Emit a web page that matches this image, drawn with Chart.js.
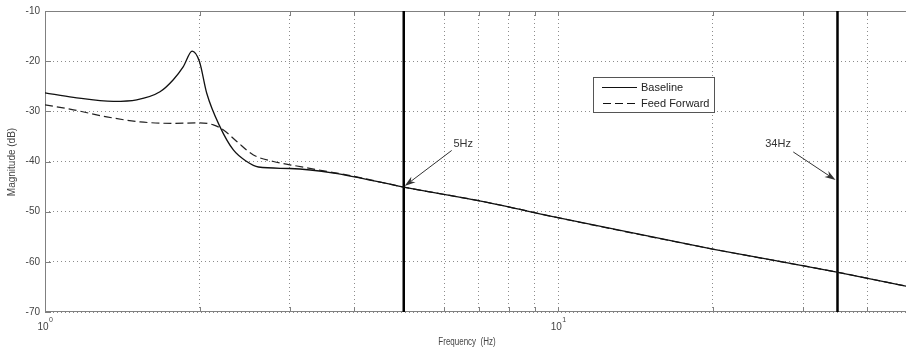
<!DOCTYPE html>
<html>
<head>
<meta charset="utf-8">
<script src="https://cdn.jsdelivr.net/npm/chart.js@4/dist/chart.umd.min.js"></script>
<style>
    html, body { margin: 0; padding: 0; background: #fff; overflow: hidden; }
    #wrap { width: 918px; height: 354px; }
</style>
</head>
<body>
<div id="wrap"><canvas id="bode" width="918" height="354"></canvas></div>
<script>
// Bode magnitude - Baseline vs Feed Forward

const baselineFreq = [1, 1.136, 1.359, 1.509, 1.675, 1.778, 1.86, 1.935, 2.0, 2.066, 2.193, 2.328, 2.472, 2.605, 3.0, 3.65, 5.0, 7.15, 10.09, 20.1, 34.7, 50];
const baselineMag  = [-26.3, -27.2, -28.0, -27.7, -26.1, -23.7, -21.1, -18.0, -20.1, -26.4, -33.1, -37.7, -40.0, -41.1, -41.4, -42.3, -45.1, -48.0, -51.3, -57.5, -62.0, -65.3];

const ffFreq = [1, 1.136, 1.319, 1.532, 1.778, 2.0, 2.128, 2.227, 2.364, 2.547, 2.786, 3.095, 3.65, 3.8, 5.0, 7.15, 10.09, 20.1, 34.7, 50];
const ffMag  = [-28.7, -29.7, -31.1, -32.1, -32.4, -32.3, -32.7, -33.7, -36.0, -38.7, -40.0, -40.9, -42.2, -42.5, -45.1, -48.0, -51.3, -57.5, -62.0, -65.3];

const markerFreqs = [5, 35];
const yTicks = [-70, -60, -50, -40, -30, -20, -10];
const xGrid = [1, 2, 3, 4, 5, 6, 7, 8, 9, 10, 20, 30, 40];
const xDecades = [1, 10];

const seriesNames = ['Baseline', 'Feed Forward'];
const notes = [
    { label: '5Hz',  textX: 6.25, textY: -36.6, fromX: 6.2,  fromY: -37.8, toX: 5.02, toY: -44.9, align: 'left' },
    { label: '34Hz', textX: 28.4, textY: -36.6, fromX: 28.7, fromY: -38.1, toX: 34.7, toY: -43.7, align: 'right' }
];

const FONT = '"Liberation Sans", Arial, sans-serif';

function toPoints(xs, ys) {
    return xs.map((v, i) => ({ x: v, y: ys[i] }));
}

function drawArrow(ctx, x1, y1, x2, y2) {
    const ang = Math.atan2(y2 - y1, x2 - x1);
    const len = 11, half = 3.5;
    const c = Math.cos(ang), s = Math.sin(ang);
    ctx.beginPath();
    ctx.moveTo(x1, y1);
    ctx.lineTo(x2 - c * len * 0.7, y2 - s * len * 0.7);
    ctx.stroke();
    ctx.beginPath();
    ctx.moveTo(x2, y2);
    ctx.lineTo(x2 - c * len + s * half, y2 - s * len - c * half);
    ctx.lineTo(x2 - c * len * 0.7, y2 - s * len * 0.7);
    ctx.lineTo(x2 - c * len - s * half, y2 - s * len + c * half);
    ctx.closePath();
    ctx.fill();
}

const bodeDecor = {
    id: 'bodeDecor',
    beforeDatasetsDraw(chart) {
        const { ctx, chartArea: a, scales: { x, y } } = chart;
        ctx.save();
        ctx.strokeStyle = '#808080';
        ctx.lineWidth = 1;
        ctx.strokeRect(a.left + 0.5, a.top + 0.5, a.right - a.left - 1, a.bottom - a.top - 1);
        // matlab style inner ticks
        ctx.beginPath();
        xGrid.forEach(v => {
            const px = Math.round(x.getPixelForValue(v)) + 0.5;
            ctx.moveTo(px, a.bottom); ctx.lineTo(px, a.bottom - 5);
            ctx.moveTo(px, a.top); ctx.lineTo(px, a.top + 5);
        });
        yTicks.forEach(v => {
            const py = Math.round(y.getPixelForValue(v)) + 0.5;
            ctx.moveTo(a.left, py); ctx.lineTo(a.left + 6, py);
            ctx.moveTo(a.right, py); ctx.lineTo(a.right - 6, py);
        });
        ctx.stroke();
        ctx.restore();
    },
    afterDatasetsDraw(chart) {
        const { ctx, scales: { x, y } } = chart;
        ctx.save();

        // annotations
        ctx.fillStyle = '#333';
        ctx.strokeStyle = '#333';
        ctx.lineWidth = 1;
        ctx.font = '11px ' + FONT;
        ctx.textBaseline = 'middle';
        notes.forEach(n => {
            ctx.textAlign = n.align;
            ctx.fillText(n.label, x.getPixelForValue(n.textX), y.getPixelForValue(n.textY));
            drawArrow(ctx, x.getPixelForValue(n.fromX), y.getPixelForValue(n.fromY),
                      x.getPixelForValue(n.toX), y.getPixelForValue(n.toY));
        });

        // legend box
        ctx.fillStyle = '#fff';
        ctx.fillRect(593, 77, 121, 35);
        ctx.strokeStyle = '#555';
        ctx.strokeRect(593.5, 77.5, 121, 35);
        ctx.strokeStyle = '#111';
        ctx.lineWidth = 1.2;
        ctx.beginPath(); ctx.moveTo(602, 87.5); ctx.lineTo(637, 87.5); ctx.stroke();
        ctx.setLineDash([8, 4]);
        ctx.beginPath(); ctx.moveTo(603, 103.5); ctx.lineTo(638, 103.5); ctx.stroke();
        ctx.setLineDash([]);
        ctx.fillStyle = '#222';
        ctx.textAlign = 'left';
        ctx.font = '11px ' + FONT;
        ctx.fillText(seriesNames[0], 641, 87.5);
        ctx.fillText(seriesNames[1], 641, 103.5);
        ctx.restore();
    },
    afterDraw(chart) {
        const { ctx, chartArea: a, scales: { x } } = chart;
        ctx.save();
        ctx.fillStyle = '#444';
        ctx.textBaseline = 'middle';
        // decade labels 10^n
        xDecades.forEach(v => {
            const px = x.getPixelForValue(v);
            const exp = String(Math.round(Math.log10(v)));
            ctx.font = '10px ' + FONT;
            const w1 = ctx.measureText('10').width;
            ctx.font = '7px ' + FONT;
            const w2 = ctx.measureText(exp).width;
            const start = px - (w1 + w2) / 2;
            ctx.textAlign = 'left';
            ctx.font = '10px ' + FONT;
            ctx.fillText('10', start, a.bottom + 15);
            ctx.font = '7px ' + FONT;
            ctx.fillText(exp, start + w1 + 0.5, a.bottom + 8);
        });
        // axis titles
        ctx.textAlign = 'center';
        ctx.font = '10px ' + FONT;
        ctx.save();
        ctx.translate(467, 342);
        ctx.scale(0.8, 1);
        ctx.fillText('Frequency  (Hz)', 0, 0);
        ctx.restore();
        ctx.save();
        ctx.translate(12, 162);
        ctx.rotate(-Math.PI / 2);
        ctx.fillText('Magnitude (dB)', 0, 0);
        ctx.restore();
        ctx.restore();
    }
};

const gridStyle = { color: '#8c8c8c', lineWidth: 1, drawTicks: false };

new Chart(document.getElementById('bode'), {
    type: 'line',
    data: {
        datasets: [
            {
                label: seriesNames[0],
                data: toPoints(baselineFreq, baselineMag),
                borderColor: '#111',
                borderWidth: 1.3,
                pointRadius: 0,
                cubicInterpolationMode: 'monotone'
            },
            {
                label: seriesNames[1],
                data: toPoints(ffFreq, ffMag),
                borderColor: '#222',
                borderWidth: 1.2,
                borderDash: [8, 4],
                pointRadius: 0,
                cubicInterpolationMode: 'monotone'
            },
            ...markerFreqs.map(f => ({
                label: 'marker ' + f,
                data: [{ x: f, y: yTicks[yTicks.length - 1] }, { x: f, y: yTicks[0] }],
                borderColor: '#000',
                borderWidth: 2.5,
                pointRadius: 0
            }))
        ]
    },
    options: {
        responsive: false,
        devicePixelRatio: 1,
        animation: false,
        events: [],
        layout: { padding: { top: 11, right: 1, left: 0, bottom: 0 } },
        plugins: {
            legend: { display: false },
            tooltip: { enabled: false }
        },
        scales: {
            x: {
                type: 'logarithmic',
                min: 1,
                max: 50,
                afterBuildTicks: s => { s.ticks = xGrid.map(v => ({ value: v })); },
                afterFit: s => { s.height = 42; },
                ticks: { display: false },
                grid: gridStyle,
                border: { display: false, dash: [1, 3] }
            },
            y: {
                min: yTicks[0],
                max: yTicks[yTicks.length - 1],
                afterBuildTicks: s => { s.ticks = yTicks.map(v => ({ value: v })); },
                afterFit: s => { s.width = 45; },
                ticks: {
                    padding: 5,
                    color: '#444',
                    font: { family: FONT, size: 10 }
                },
                grid: gridStyle,
                border: { display: false, dash: [1, 3] }
            }
        }
    },
    plugins: [bodeDecor]
});
</script>
</body>
</html>
